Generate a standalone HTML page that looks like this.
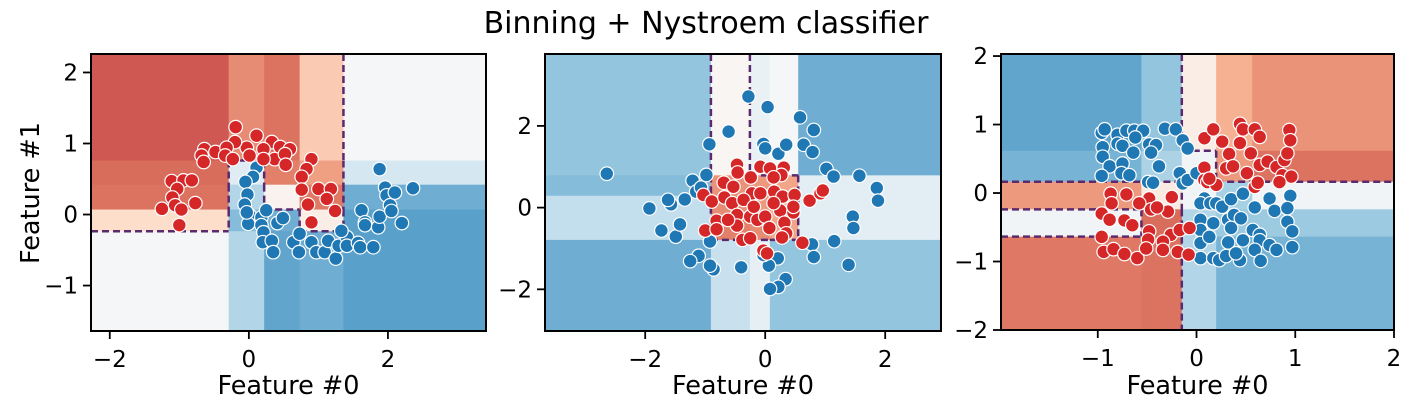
<!DOCTYPE html>
<html><head><meta charset="utf-8"><style>
body{margin:0;background:#fff;}
svg{display:block;font-family:"DejaVu Sans","Liberation Sans",sans-serif;}
</style></head><body>
<svg id="fig" width="1411" height="411" viewBox="0 0 1411 411">
<text x="706" y="33" font-size="30" text-anchor="middle" fill="#000">Binning + Nystroem classifier</text>
</svg>
<script>
// ---------- Panel 1 (moons) ----------
const p1XEdges = [-0.29, 0.22, 0.73, 1.36];
const p1YEdges = [0.76, 0.42, 0.07, -0.235];
const p1Cells = [
 [0.17,0.25,0.21,0.36,0.51],
 [0.20,0.57,0.23,0.28,0.60],
 [0.21,0.66,0.48,0.22,0.76],
 [0.40,0.73,0.76,0.46,0.79],
 [0.51,0.66,0.78,0.76,0.79]];
const p1XTicks = [-2,0,2];
const p1YTicks = [-1,0,1,2];
const p1RedX = [-0.19,0.11,0.33,-0.03,-0.20,-0.64,-0.48,-0.32,-0.68,-0.65,-0.34,-0.23,0.21,0.45,0.59,0.37,0.52,0.53,0.21,0.90,0.83,0.76,0.76,1.0,1.18,1.12,0.85,1.24,0.90,-1.11,-0.94,-0.82,-1.03,-1.10,-0.77,-1.06,-0.97,-1.25,-1.00,0.01];
const p1RedY = [1.23,1.11,1.02,0.94,1.02,0.92,0.88,0.94,0.83,0.74,0.83,0.78,0.92,0.95,0.92,0.78,0.85,0.70,0.78,0.78,0.64,0.53,0.35,0.36,0.36,0.22,0.14,0.05,-0.11,0.47,0.48,0.48,0.36,0.24,0.16,0.13,0.07,0.08,-0.15,0.83];
const p1BlueX = [0.11,0.06,-0.05,-0.02,-0.06,0.01,-0.01,0.18,0.18,0.21,0.20,0.33,0.35,0.41,0.49,0.64,0.72,0.73,0.90,0.97,1.09,1.14,1.25,1.29,1.41,1.41,1.57,1.60,1.62,1.67,1.67,1.79,1.86,1.88,1.88,1.96,1.98,2.03,2.05,2.10,2.20,2.36,1.33,0.25,-0.03];
const p1BlueY = [0.66,0.53,0.46,0.28,0.14,-0.01,-0.13,-0.04,-0.15,-0.25,-0.39,-0.37,-0.53,-0.12,-0.05,-0.39,-0.53,-0.27,-0.39,-0.53,-0.53,-0.37,-0.62,-0.44,-0.32,-0.44,-0.40,-0.46,0.06,-0.11,-0.15,-0.46,-0.18,-0.03,0.64,0.38,0.27,0.13,0.05,0.31,-0.12,0.37,-0.23,0.06,0.03];

// ---------- Panel 2 (circles) ----------
const p2XEdges = [-0.905, -0.255, 0.078, 0.55];
const p2YEdges = [0.79, 0.29, -0.26, -0.79];
const p2Cells = [
 [0.71,0.49,0.54,0.51,0.76],
 [0.73,0.26,0.27,0.29,0.56],
 [0.63,0.25,0.27,0.30,0.56],
 [0.63,0.23,0.25,0.29,0.56],
 [0.76,0.62,0.55,0.71,0.71]];
const p2XTicks = [-2,0,2];
const p2YTicks = [-2,0,2];
const p2BlueX = [-2.64,-1.93,-1.73,-1.49,-1.42,-1.57,-1.62,-1.34,-1.21,-1.15,-1.07,-0.98,-0.93,-0.61,-0.28,0.04,-0.03,0.0,0.22,0.35,0.58,0.81,0.64,0.79,1.02,1.14,1.57,1.86,1.88,1.46,1.47,1.15,0.78,0.81,1.39,0.21,0.06,-0.03,0.34,0.22,0.08,-0.40,-0.86,-0.92,-1.11,-1.25,-0.92];
const p2BlueY = [0.83,-0.02,-0.56,-0.71,-0.41,0.08,0.19,0.20,0.66,0.39,0.49,0.80,1.55,1.86,2.72,2.46,1.56,1.45,1.32,1.54,2.21,1.90,1.54,1.36,0.95,0.76,0.78,0.48,0.17,-0.22,-0.50,-0.82,-0.90,-1.21,-1.40,-1.24,-1.42,-1.16,-1.75,-1.94,-1.99,-1.46,-1.51,-1.42,-1.18,-1.31,-0.83];
const p2RedX = [-0.47,-0.46,-0.08,0.08,0.31,0.27,-0.69,-0.53,-0.24,0.14,-1.03,-0.89,-0.68,-0.55,-0.22,-0.08,0.15,0.29,0.49,0.74,0.92,0.96,-1.0,-0.81,-0.81,-0.47,-0.47,-0.25,-0.13,0.0,0.07,0.25,0.32,0.35,0.47,0.62,-0.03,0.03,-0.38,-0.25,0.28,-0.62,-0.36,-0.19,0.14,0.47];
const p2RedY = [1.05,0.86,1.00,0.96,0.98,0.80,0.61,0.51,0.74,0.74,0.31,0.15,0.25,0.11,0.35,0.35,0.39,0.27,0.31,0.17,0.35,0.42,-0.56,-0.32,-0.53,-0.18,-0.44,-0.22,-0.30,-0.22,-0.50,-0.07,-0.37,-0.63,-0.12,-0.86,-1.05,-1.12,-0.79,-0.75,-0.73,-0.30,0.19,0.02,0.11,0.02];

// ---------- Panel 3 (xor) ----------
const p3XEdges = [-0.558, -0.149, 0.199, 0.564];
const p3YEdges = [0.617, 0.165, -0.238, -0.637];
const p3Cells = [
 [0.78,0.71,0.46,0.31,0.26],
 [0.75,0.67,0.52,0.27,0.21],
 [0.27,0.45,0.52,0.68,0.52],
 [0.52,0.20,0.66,0.70,0.70],
 [0.22,0.21,0.66,0.75,0.75]];
const p3XTicks = [-1,0,1,2];
const p3YTicks = [-2,-1,0,1,2];
const p3BlueX = [-0.96,-0.93,-0.80,-0.71,-0.63,-0.54,-0.32,-0.21,-0.62,-0.80,-0.75,-0.48,-0.41,-0.95,-0.95,-0.88,-0.75,-0.64,-0.46,-0.38,-0.96,-0.76,-0.68,-0.49,-0.44,-0.14,-0.09,-0.17,-0.14,-0.09,0.0,0.08,0.04,0.14,0.20,0.26,0.35,0.47,0.59,0.74,0.79,0.95,0.92,0.92,0.97,0.97,0.04,0.04,0.04,0.17,0.13,0.32,0.38,0.45,0.35,0.32,0.47,0.57,0.64,0.64,0.59,0.74,0.81,0.04,0.17,0.23,0.30,0.44,0.65,0.40];
const p3BlueY = [0.88,0.93,0.85,0.91,0.91,0.91,0.94,0.93,0.81,0.72,0.69,0.71,0.70,0.67,0.53,0.39,0.43,0.59,0.59,0.39,0.25,0.29,0.26,0.16,0.15,0.77,0.65,0.29,0.14,0.19,0.29,-0.08,-0.15,-0.15,-0.15,-0.20,-0.09,-0.01,-0.21,-0.08,-0.26,-0.04,-0.22,-0.42,-0.56,-0.79,-0.39,-0.54,-0.73,-0.44,-0.64,-0.39,-0.32,-0.37,-0.51,-0.72,-0.69,-0.54,-0.61,-0.69,-0.83,-0.76,-0.83,-0.95,-0.95,-0.98,-0.92,-0.98,-0.99,-0.88];
const p3RedX = [0.08,0.17,0.26,0.44,0.47,0.59,0.64,0.44,0.55,0.33,0.30,0.37,0.08,0.08,0.11,0.20,0.13,0.51,0.64,0.72,0.81,0.89,0.92,0.94,0.95,0.87,0.96,0.59,0.62,0.84,-0.87,-0.71,-0.48,-0.25,-0.86,-0.58,-0.46,-0.29,-0.40,-0.96,-0.88,-0.73,-0.96,-0.48,-0.26,-0.49,-0.34,-0.17,-0.07,-0.94,-0.84,-0.73,-0.60,-0.51,-0.34,-0.19,-0.08,-0.65];
const p3RedY = [0.80,0.93,0.75,1.01,0.93,0.93,0.82,0.73,0.58,0.57,0.36,0.39,0.37,0.19,0.16,0.12,0.21,0.29,0.41,0.46,0.38,0.48,0.58,0.92,0.77,0.26,0.24,0.09,0.15,0.16,-0.01,-0.02,-0.08,-0.06,-0.15,-0.15,-0.24,-0.27,-0.21,-0.30,-0.39,-0.40,-0.64,-0.56,-0.61,-0.68,-0.71,-0.54,-0.51,-0.86,-0.82,-0.89,-0.95,-0.81,-0.83,-0.86,-0.90,-0.47];

const NS = "http://www.w3.org/2000/svg";
const svg = document.getElementById('fig');
const anchors = [[103,0,31],[178,24,43],[214,96,77],[244,165,130],[253,219,199],[247,247,247],[209,229,240],[146,197,222],[67,147,195],[33,102,172],[5,48,97]];
const ALPHA = 0.92;
function rdbu(v){
  v=Math.max(0,Math.min(1,v));const s=v*10;const i=Math.min(9,Math.floor(s));const t=s-i;
  const c=[0,1,2].map(k=>Math.round(ALPHA*(anchors[i][k]+(anchors[i+1][k]-anchors[i][k])*t)+(1-ALPHA)*255));
  return `rgb(${c[0]},${c[1]},${c[2]})`;
}
function mk(tag, attrs, parent){const e=document.createElementNS(NS,tag);for(const k in attrs)e.setAttribute(k,attrs[k]);(parent||svg).appendChild(e);return e;}

function panel(cfg){
  const {L,R,T,B,x0,x1,y0,y1,xEdges,yEdges,cells,xTicks,yTicks,blueX,blueY,redX,redY,name} = cfg;
  const sx = v => L + (v-x0)/(x1-x0)*(R-L);
  const sy = v => B - (v-y0)/(y1-y0)*(B-T);
  const g = mk('g',{});
  
  
  const xb=[x0,...xEdges,x1], yb=[y1,...yEdges,y0];
  for(let r=0;r<cells.length;r++)for(let c=0;c<cells[r].length;c++){
    const xa=sx(xb[c]), xc=sx(xb[c+1]), ya=sy(yb[r]), yc=sy(yb[r+1]);
    const rc=mk('rect',{x:xa,y:ya,width:xc-xa+0.5,height:yc-ya+0.5,fill:rdbu(cells[r][c])},g);
    
    
  }
  let d='';
  for(let r=0;r<cells.length;r++)for(let c=0;c<cells[r].length-1;c++){
    if((cells[r][c]<0.5)!==(cells[r][c+1]<0.5)){const x=sx(xb[c+1]);d+=`M${x},${sy(yb[r])}L${x},${sy(yb[r+1])}`;}
  }
  for(let r=0;r<cells.length-1;r++)for(let c=0;c<cells[r].length;c++){
    if((cells[r][c]<0.5)!==(cells[r+1][c]<0.5)){const y=sy(yb[r+1]);d+=`M${sx(xb[c])},${y}L${sx(xb[c+1])},${y}`;}
  }
  const bd=mk('path',{d:d,stroke:'#5b2a6e',"stroke-width":2.5,"stroke-dasharray":"7,4",fill:'none'},g);
  
  
  const pts=(xs,ys,col,nm)=>{for(let i=0;i<xs.length;i++){
    const p=mk('circle',{cx:sx(xs[i]),cy:sy(ys[i]),r:6.8,fill:col,stroke:'#fff',"stroke-width":1.2},g);
    
    
  }};
  pts(blueX,blueY,'#1f77b4','blue-point');
  pts(redX,redY,'#d62728','red-point');
  const fr=mk('rect',{x:L,y:T,width:R-L,height:B-T,fill:'none',stroke:'#000',"stroke-width":2},g);
  
  
  xTicks.forEach(t=>{const x=sx(t);
    mk('line',{x1:x,x2:x,y1:B,y2:B+8,stroke:'#000',"stroke-width":1.8},g);
    const tx=mk('text',{x:x,y:B+36,"font-size":23,"text-anchor":"middle"},g);tx.textContent=t<0?'\u2212'+(-t):String(t);
    
    
  });
  yTicks.forEach(t=>{const y=sy(t);
    mk('line',{x1:L-8,x2:L,y1:y,y2:y,stroke:'#000',"stroke-width":1.8},g);
    const tx=mk('text',{x:L-13,y:y+8,"font-size":23,"text-anchor":"end"},g);tx.textContent=t<0?'\u2212'+(-t):String(t);
    
    
  });
  const xl=mk('text',{x:(L+R)/2,y:394,"font-size":25.5,"text-anchor":"middle"},g);xl.textContent='Feature #0';
  
  
}
panel({name:'panel-moons',L:91,R:486,T:54,B:331,x0:-2.27,x1:3.41,y0:-1.64,y1:2.26,xEdges:p1XEdges,yEdges:p1YEdges,cells:p1Cells,xTicks:p1XTicks,yTicks:p1YTicks,blueX:p1BlueX,blueY:p1BlueY,redX:p1RedX,redY:p1RedY});
panel({name:'panel-circles',L:545,R:941,T:54,B:331,x0:-3.67,x1:2.93,y0:-3.02,y1:3.76,xEdges:p2XEdges,yEdges:p2YEdges,cells:p2Cells,xTicks:p2XTicks,yTicks:p2YTicks,blueX:p2BlueX,blueY:p2BlueY,redX:p2RedX,redY:p2RedY});
panel({name:'panel-xor',L:1001,R:1394,T:54,B:330,x0:-1.98,x1:2.0,y0:-2.0,y1:2.03,xEdges:p3XEdges,yEdges:p3YEdges,cells:p3Cells,xTicks:p3XTicks,yTicks:p3YTicks,blueX:p3BlueX,blueY:p3BlueY,redX:p3RedX,redY:p3RedY});
const yl=mk('text',{x:0,y:0,"font-size":25.5,"text-anchor":"middle",transform:"translate(39,193) rotate(-90)"});
yl.textContent='Feature #1';


</script>
</body></html>
